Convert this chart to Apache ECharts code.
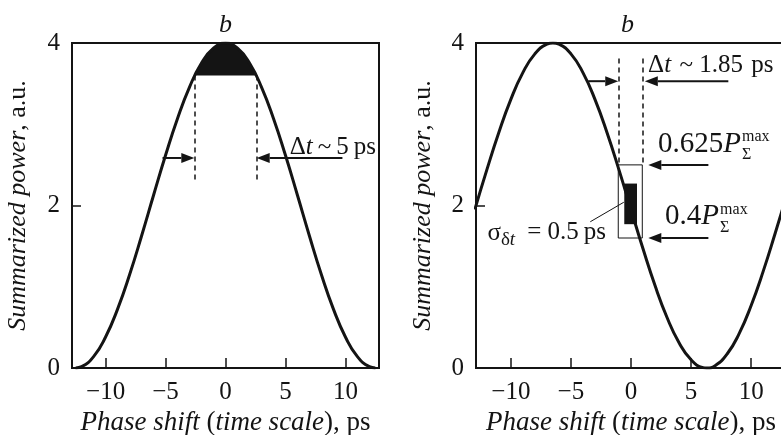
<!DOCTYPE html>
<html><head><meta charset="utf-8">
<script src="https://cdn.jsdelivr.net/npm/echarts@6/dist/echarts.min.js"></script>
<style>html,body{margin:0;padding:0;background:#fff}#c{width:781px;height:435px}</style>
</head><body><div id="c"></div>
<script>
// ---------- data ----------
// Left panel: summarized power vs phase shift
const leftX = [-12.5,-12,-11,-10,-9,-8,-7,-6,-5,-4,-3,-2,-1,0,1,2,3,4,5,6,7,8,9,10,11,12,12.5];
const leftY = [0,0.016,0.140,0.382,0.725,1.148,1.625,2.126,2.618,3.072,3.458,3.753,3.937,4.0,3.937,3.753,3.458,3.072,2.618,2.126,1.625,1.148,0.725,0.382,0.140,0.016,0];
// black filled cap of the left curve (above the threshold level)
const peakThreshold = 3.6;
const peakX = [-2.56,-2.5,-2,-1.5,-1,-0.5,0,0.5,1,1.5,2,2.5,2.56];
const peakY = [3.600,3.618,3.753,3.860,3.937,3.984,4.0,3.984,3.937,3.860,3.753,3.618,3.600];
// Right panel
const rightX = [-13,-12,-11,-10,-9,-8,-7,-6.5,-6,-5,-4,-3,-2,-1,0,1,2,3,4,5,6,6.3,7,8,9,10,11,12,13];
const rightY = [1.951,2.438,2.899,3.306,3.635,3.866,3.985,4.0,3.985,3.866,3.635,3.306,2.899,2.438,1.951,1.467,1.014,0.621,0.310,0.101,0.005,0.0,0.029,0.172,0.423,0.770,1.189,1.658,2.147];
// tick labels
const xTickValues = [-10,-5,0,5,10];
const yTickValues = [0,2,4];

// annotations (data units)
const leftDashX = [-2.6, 2.6];
const leftDashY = [3.6, 2.28];
const leftArrows = [[-5.25,-2.6,2.585],[9.75,2.6,2.585]];   // [from, tip, level]
const rightDashX = [-1.06, 0.94];
const rightDashY = [3.81, 2.5];
const rightBox = [[-1.06,2.5],[0.94,1.6]];
const rightRect = [[-0.56,2.27],[0.5,1.77]];
const rightArrows = [[-3.56,-1.06,3.53],[8.1,1.15,3.53],[6.44,1.44,2.5],[6.44,1.44,1.6]];
const leaderLine = [[-3.39,1.80],[-0.6,2.04]];

const FONT = '"Liberation Serif","Times New Roman",serif';
const INK = '#141414';
const FS = 25;

const zip = (a,b) => a.map((v,i)=>[v,b[i]]);
const fmt = v => v < 0 ? '\u2212' + Math.abs(v) : String(v);
const richAxis = (s) => ({
  i:{fontStyle:'italic',fontFamily:FONT,fontSize:s,color:INK},
  n:{fontStyle:'normal',fontFamily:FONT,fontSize:s,color:INK}
});

function xAxis(g, min, max){
  return {
    type:'value', gridIndex:g, min:min, max:max, splitNumber:5,
    axisLine:{show:false, onZero:false}, splitLine:{show:false},
    axisTick:{show:true, inside:true, length:10, lineStyle:{color:INK,width:1.5}},
    axisLabel:{margin:12, fontFamily:FONT, fontSize:FS, color:INK,
      formatter: v => xTickValues.indexOf(Math.round(v*1000)/1000) >= 0 ? fmt(v) : ''},
    name:'{i|Phase shift }{n|(}{i|time scale}{n|), ps}',
    nameLocation:'middle', nameGap:38,
    nameTextStyle:{fontFamily:FONT,fontSize:27,color:INK,rich:richAxis(27)}
  };
}
function yAxis(g, gap){
  return {
    type:'value', gridIndex:g, min:0, max:4, interval:2,
    axisLine:{show:false, onZero:false}, splitLine:{show:false},
    axisTick:{show:true, inside:true, length:9, lineStyle:{color:INK,width:1.5}},
    axisLabel:{margin:12, fontFamily:FONT, fontSize:FS, color:INK,
      formatter: v => yTickValues.indexOf(v) >= 0 ? String(v) : ''},
    name:'{i|Summarized power}{n|, a.u.}',
    nameLocation:'middle', nameGap:gap,
    nameTextStyle:{fontFamily:FONT,fontSize:26,color:INK,rich:richAxis(26)}
  };
}

const dashStyle = {color:INK, width:1.5, type:[5,4]};

const option = {
  animation:false,
  backgroundColor:'#ffffff',
  grid:[
    {left:72, top:43, width:307, height:325, show:true, borderColor:INK, borderWidth:2, backgroundColor:'transparent', outerBoundsMode:'none', containLabel:false},
    {left:476, top:43, width:310, height:325, show:true, borderColor:INK, borderWidth:2, backgroundColor:'transparent', outerBoundsMode:'none', containLabel:false}
  ],
  xAxis:[xAxis(0,-12.8,12.8), xAxis(1,-12.9,12.9)],
  yAxis:[yAxis(0,41), yAxis(1,40)],
  series:[
    {type:'custom', xAxisIndex:0, yAxisIndex:0, silent:true, data:[[0, peakThreshold]],
     renderItem:(params, api) => ({
       type:'polygon',
       shape:{points: peakX.map((x,i)=>api.coord([x, peakY[i]]))},
       style:{fill:INK}
     })},
    {type:'line', xAxisIndex:0, yAxisIndex:0, data: zip(leftX,leftY), smooth:true, symbol:'none',
     lineStyle:{color:INK, width:3}, silent:true,
     markLine:{silent:true, symbol:'none', label:{show:false}, lineStyle:dashStyle,
       data: leftDashX.map(x=>[{coord:[x,leftDashY[0]]},{coord:[x,leftDashY[1]]}])}},
    {type:'line', xAxisIndex:1, yAxisIndex:1, data: zip(rightX,rightY), smooth:true, symbol:'none',
     lineStyle:{color:INK, width:3}, silent:true,
     markLine:{silent:true, symbol:'none', label:{show:false}, lineStyle:dashStyle,
       data: rightDashX.map(x=>[{coord:[x,rightDashY[0]]},{coord:[x,rightDashY[1]]}]).concat([
         [{coord:leaderLine[0], lineStyle:{type:'solid', width:1, color:INK}},{coord:leaderLine[1]}]
       ])},
     markArea:{silent:true, label:{show:false},
       data:[
         [{coord:rightBox[0], itemStyle:{color:'rgba(0,0,0,0)', borderColor:INK, borderWidth:1}},{coord:rightBox[1]}],
         [{coord:rightRect[0], itemStyle:{color:INK, borderWidth:0}},{coord:rightRect[1]}]
       ]}}
  ]
};

const chart = echarts.init(document.getElementById('c'), null, {renderer:'canvas'});
chart.setOption(option);

const mctx = document.createElement('canvas').getContext('2d');
function tw(text, size, italic){ mctx.font = (italic ? 'italic ' : '') + size + 'px ' + FONT; return mctx.measureText(text).width; }

function px(g,x,y){ return chart.convertToPixel({gridIndex:g},[x,y]); }
function arrow(g, from, tip, lvl){
  const a = px(g,from,lvl), b = px(g,tip,lvl);
  const dir = Math.sign(b[0]-a[0]);
  const L = 13, W = 5;
  const base = b[0] - dir*L;
  return [
    {type:'line', silent:true, shape:{x1:a[0],y1:a[1],x2:base,y2:b[1]}, style:{stroke:INK,lineWidth:2}},
    {type:'polygon', silent:true, shape:{points:[[b[0],b[1]],[base,b[1]-W],[base,b[1]+W]]}, style:{fill:INK}}
  ];
}
const rich = (size) => ({
  n:{fontFamily:FONT,fontSize:size,fill:INK,fontStyle:'normal'},
  i:{fontFamily:FONT,fontSize:size,fill:INK,fontStyle:'italic'}
});
function textAt(x, y, text, size){
  return {type:'text', silent:true, x:x, y:y,
    style:{text:text, fontFamily:FONT, fontSize:size, fill:INK, align:'left', verticalAlign:'middle', rich:rich(size)}};
}
function label(g,x,y,text,size){ const p = px(g,x,y); return textAt(p[0], p[1], text, size); }
function powerLabel(g, x, y, num, size){
  const p = px(g,x,y);
  const x2 = p[0] + tw(num, size) + tw('P', size, true) + 1;
  return [
    textAt(p[0], p[1], '{n|' + num + '}{i|P}', size),
    textAt(x2, p[1] - 7, '{n|max}', 16),
    textAt(x2, p[1] + 11, '{n|\u03A3}', 16)
  ];
}

let gfx = [];
leftArrows.forEach(a=>{ gfx = gfx.concat(arrow(0,a[0],a[1],a[2])); });
rightArrows.forEach(a=>{ gfx = gfx.concat(arrow(1,a[0],a[1],a[2])); });
gfx.push(label(0, 5.35, 2.71, '{n|\u0394}{i|t}{n|\u2009~\u20095\u2009ps}', FS));
gfx.push(label(1, 1.42, 3.73, '{n|\u0394}{i|t}{n|\u2004~ 1.85\u2004ps}', FS));
gfx = gfx.concat(powerLabel(1, 2.25, 2.757, '0.625', 29));
gfx = gfx.concat(powerLabel(1, 2.84, 1.865, '0.4', 29));
const sp = px(1, -11.95, 1.66);
const sw = tw('\u03C3', FS);
gfx.push(textAt(sp[0], sp[1], '{n|\u03C3}', FS));
gfx.push(textAt(sp[0] + sw, sp[1] + 7, '{n|\u03B4}{i|t}', 19));
gfx.push(label(1, -8.64, 1.674, '{n|= 0.5\u2009ps}', FS));
const t0 = px(0, 0, 4), t1 = px(1, -0.3, 4);
gfx.push({type:'text', silent:true, x:t0[0], y:25, style:{text:'b', fontFamily:FONT, fontSize:26, fontStyle:'italic', fill:INK, align:'center', verticalAlign:'middle'}});
gfx.push({type:'text', silent:true, x:t1[0], y:25, style:{text:'b', fontFamily:FONT, fontSize:26, fontStyle:'italic', fill:INK, align:'center', verticalAlign:'middle'}});

chart.setOption({graphic:{elements:gfx}});
</script>
</body></html>
